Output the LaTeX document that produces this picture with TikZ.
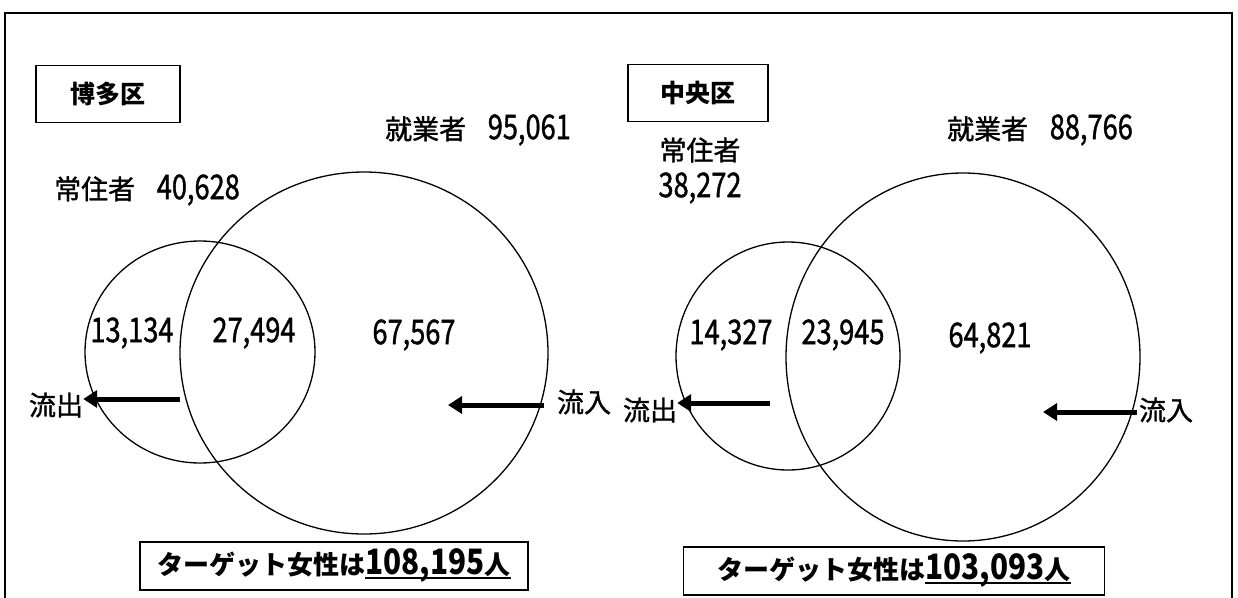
\documentclass[tikz,border=0pt]{standalone}
\usepackage{fontspec}
\setmainfont{Noto Sans CJK JP}
\newfontfamily\lblfont[FakeBold=1.2]{Noto Sans CJK JP}
\usetikzlibrary{arrows.meta,shapes.geometric}
\newcommand\dg[3]{\scalebox{#1}[1]{\fontsize{#2}{#2}\selectfont #3}}
\newcommand\myul[1]{\setbox0\hbox{#1}\rlap{\rule[-4pt]{\wd0}{1.8pt}}\box0}
\begin{document}
\begin{tikzpicture}[x=1pt,y=-1pt,
  lbl/.style={font=\lblfont\fontsize{27}{30}\selectfont, inner sep=0pt},
  ttl/.style={draw, line width=1.3pt, minimum height=57pt, inner sep=0pt, font=\fontsize{25}{30}\selectfont\bfseries},
  tgt/.style={draw, line width=1.3pt, minimum height=48pt, inner sep=0pt, font=\fontsize{26}{30}\selectfont\bfseries},
  ring/.style={draw, ellipse, line width=1.3pt, inner sep=0pt},
  flow/.style={line width=5pt, -{Triangle[length=14pt,width=17pt]}}]
\useasboundingbox (0,0) rectangle (1238,597);
% frame
\coordinate (fbl) at (5,600);
\coordinate (ftl) at (5,13);
\coordinate (ftr) at (1232,13);
\coordinate (fbr) at (1232,600);
\draw[line width=2pt] (fbl) -- (ftl) -- (ftr) -- (fbr);

% ===== left: Hakata
\node[ttl, minimum width=144pt] (ttlL) at (108,94) {博多区};
\node[lbl] (workLbl) at (478,130) {就業者\hspace{0.8em}\dg{0.8}{34}{95,061}};
\node[lbl] (resLbl) at (147,190) {常住者\hspace{0.8em}\dg{0.8}{34}{40,628}};
\node[ring, minimum width=230pt, minimum height=222pt] (resL) at (200,352) {};
\node[ring, minimum width=368pt, minimum height=362pt] (workL) at (364,353) {};
\node[lbl] (aL) at (132,333) {\dg{0.8}{34}{13,134}};
\node[lbl] (bL) at (254,333) {\dg{0.8}{34}{27,494}};
\node[lbl] (cL) at (414,335) {\dg{0.8}{34}{67,567}};
\node[lbl] (outL) at (56,405) {流出};
\node[lbl] (inL) at (584,402) {流入};
\coordinate (outLs) at (180,399);
\coordinate (inLs) at (544,405);
\coordinate (inLe) at (448,405);
\draw[flow] (outLs) -- (outL.east |- outLs);
\draw[flow] (inLs) -- (inLe);
\node[tgt, minimum width=388pt] (tgtL) at (334,566) {ターゲット女性は\myul{\dg{0.85}{35}{108,195}人}};

% ===== right: Chuo
\node[ttl, minimum width=140pt] (ttlR) at (698,93) {中央区};
\node[lbl] (workLblR) at (1040,130) {就業者\hspace{0.8em}\dg{0.8}{34}{88,766}};
\node[lbl] (resLblR) at (700,150) {常住者};
\node[lbl] (resNumR) at (700,188) {\dg{0.8}{34}{38,272}};
\node[ring, minimum width=224pt, minimum height=228pt] (resR) at (788,356) {};
\node[ring, minimum width=354pt, minimum height=368pt] (workR) at (963,357) {};
\node[lbl] (aR) at (731,335) {\dg{0.8}{34}{14,327}};
\node[lbl] (bR) at (843,335) {\dg{0.8}{34}{23,945}};
\node[lbl] (cR) at (990,338) {\dg{0.8}{34}{64,821}};
\node[lbl] (outR) at (650,410) {流出};
\node[lbl] (inR) at (1166,410) {流入};
\coordinate (outRs) at (770,403);
\coordinate (inRs) at (1137,412);
\coordinate (inRe) at (1043,412);
\draw[flow] (outRs) -- (outR.east |- outRs);
\draw[flow] (inRs) -- (inRe);
\node[tgt, minimum width=421pt] (tgtR) at (894,571) {ターゲット女性は\myul{\dg{0.85}{35}{103,093}人}};
\end{tikzpicture}
\end{document}
